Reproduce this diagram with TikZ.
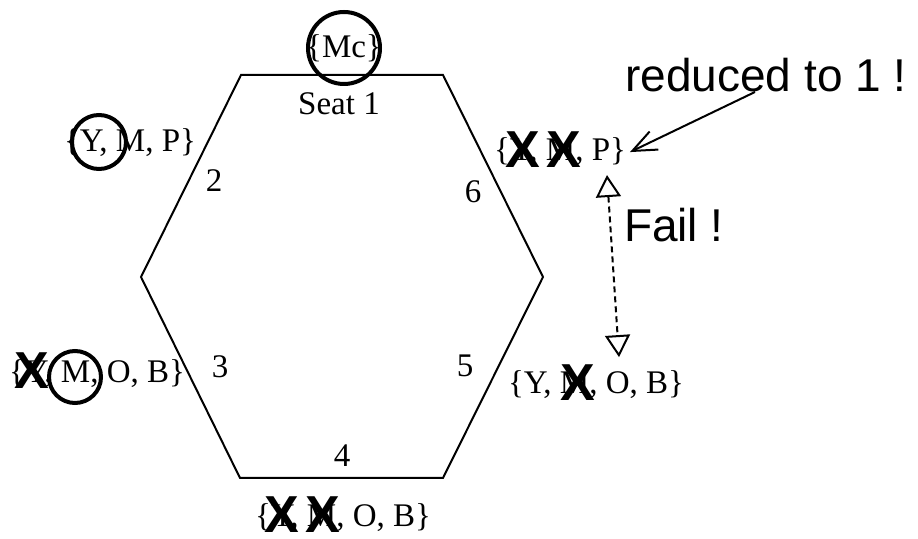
\documentclass[tikz,border=0pt]{standalone}
\usepackage{fontspec}
\setmainfont{Liberation Serif}
\setsansfont{Liberation Sans}
\usetikzlibrary{arrows.meta,calc}

\begin{document}
\begin{tikzpicture}[x=0.5pt,y=-0.5pt,line width=1pt,
 set/.style={inner sep=0pt,anchor=base,font=\fontsize{16.5}{20}\selectfont},
 seat/.style={inner sep=0pt,anchor=base,font=\fontsize{16.5}{20}\selectfont},
 note/.style={inner sep=0pt,anchor=base,font=\sffamily\fontsize{23}{28}\selectfont},
 cross/.style={inner sep=0pt,font=\sffamily\bfseries\fontsize{26}{30}\selectfont},
 ring/.style={draw,circle,line width=2pt,inner sep=0pt}]
\useasboundingbox (0,0) rectangle (918,539);
% the table
\draw (241,75) -- (443,75) -- (543,277) -- (443,478) -- (240,478) -- (141,277) -- cycle;
% seats
\node[seat] (seat1) at (339,115) {Seat 1};
\node[seat] (seat2) at (214,192) {2};
\node[seat] (seat3) at (220,378) {3};
\node[seat] (seat4) at (342,467) {4};
\node[seat] (seat5) at (465,377) {5};
\node[seat] (seat6) at (473,203) {6};
% candidate sets
\node[set] (set1) at (344,58) {\{Mc\}};
\node[set] (set2) at (130,152) {\{Y, M, P\}};
\node[set] (set3) at (97,383) {\{Y, M, O, B\}};
\node[set] (set4) at (343,527) {\{Y, M, O, B\}};
\node[set] (set5) at (596,394) {\{Y, M, O, B\}};
\node[set] (set6) at (560,161) {\{Y, M, P\}};
% chosen
\node[ring,minimum size=36pt] (pick1) at (344,48) {};
\node[ring,minimum size=27pt] (pick2) at (99,142) {};
\node[ring,minimum size=26pt] (pick3) at (75,377) {};
% removed
\node[cross] (x6a) at (523,150) {X};
\node[cross] (x6b) at (564,150) {X};
\node[cross] (x3a) at (32,371) {X};
\node[cross] (x5a) at (578,383) {X};
\node[cross] (x4a) at (282,515) {X};
\node[cross] (x4b) at (323,515) {X};
% notes
\node[note] (reduced) at (766,92) {reduced to 1 !};
\node[note,anchor=base west] (fail) at (623,242) {Fail !};
\draw[-{Straight Barb[length=12pt,width=10pt]}] ($(reduced.base)+(-11,0)$) -- ($(set6.east)+(3,0)$);
\draw[dashed,dash pattern=on 3pt off 2pt,{Triangle[open,length=11pt,width=12.5pt]}-{Triangle[open,length=11pt,width=12.5pt]}]
 ($(set6.south)+(47,8)$) -- ($(set5.north)+(23,-13)$);
\end{tikzpicture}
\end{document}
